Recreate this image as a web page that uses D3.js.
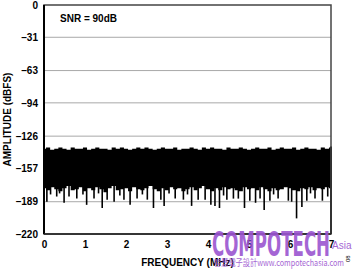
<!DOCTYPE html>
<html>
<head>
<meta charset="utf-8">
<script src="https://cdn.jsdelivr.net/npm/d3@7"></script>
<style>
body { margin: 0; background: #fff; }
text { font-family: "Liberation Sans", Arial, sans-serif; }
</style>
</head>
<body>
<svg width="353" height="270"></svg>
<script>
// tick values on the axes
var yTicks = [0, -31, -63, -94, -126, -157, -189, -220];
var xTicks = [0, 1, 2, 3, 4, 5, 6, 7];

// noise floor envelope, sampled every 0.1 MHz (dBFS)
var bandTop = [-138,-137,-139,-138,-137,-138,-139,-137,-138,-138,-137,-139,-138,-137,-138,-138,-139,-137,-138,-137,
  -138,-139,-138,-137,-138,-137,-138,-139,-138,-137,-138,-138,-137,-139,-138,-138,-137,-138,-139,-137,
  -138,-137,-138,-138,-139,-137,-138,-138,-137,-138,-139,-138,-137,-138,-138,-137,-139,-138,-137,-138,
  -138,-137,-139,-138,-137,-138,-138,-139,-137,-138,-137];
var bandBottom = [-176,-178,-175,-177,-179,-176,-174,-178,-177,-175,-179,-176,-178,-175,-177,-180,-176,-174,-178,-177,
  -176,-179,-175,-177,-178,-176,-174,-177,-179,-176,-178,-175,-177,-176,-179,-177,-175,-178,-176,-174,
  -177,-179,-176,-178,-175,-177,-176,-178,-179,-175,-177,-176,-178,-175,-177,-179,-176,-178,-177,-175,
  -176,-178,-179,-176,-177,-175,-178,-176,-177,-175,-176];

// downward noise spikes below the floor: [MHz, dBFS]
var spikes = [[0.07,-189],[0.16,-182],[0.31,-184],[0.49,-190],[0.61,-184],[0.80,-186],[1.04,-192],[1.22,-186],
  [1.42,-195],[1.54,-187],[1.71,-189],[1.95,-187],[2.10,-192],[2.27,-186],[2.52,-187],[2.67,-195],[2.85,-187],
  [2.93,-193],[3.20,-186],[3.40,-187],[3.60,-193],[3.76,-187],[3.93,-187],[4.07,-192],[4.17,-193],[4.28,-195],
  [4.46,-187],[4.62,-186],[4.74,-186],[4.89,-195],[5.02,-188],[5.16,-190],[5.27,-186],[5.37,-197],[5.51,-188],
  [5.71,-186],[5.96,-188],[6.04,-189],[6.16,-205],[6.29,-194],[6.41,-188],[6.61,-186],[6.79,-188],[6.92,-184],
  [0.38,-181],[0.95,-182],[1.33,-181],[1.85,-183],[2.40,-182],[3.05,-181],[3.50,-182],[4.38,-183],[5.60,-182],[6.50,-181]];

// single bins at the band edges: [MHz, top dBFS, bottom dBFS]
var edgeBins = [[0, -95, -176], [7, -136, -220]];

var svg = d3.select("svg");
var margin = {left: 44, top: 5, right: 22, bottom: 36};
var width = 353 - margin.left - margin.right;
var height = 270 - margin.top - margin.bottom;

var x = d3.scaleLinear().domain([0, 7]).range([0, width]);
var y = d3.scaleLinear().domain([0, -220]).range([0, height]);

var g = svg.append("g")
    .attr("transform", "translate(" + margin.left + "," + margin.top + ")");

// grid
g.append("g")
    .selectAll("line")
    .data(yTicks.slice(1, -1))
    .enter().append("line")
    .attr("x1", 0).attr("x2", width)
    .attr("y1", function (d) { return y(d); })
    .attr("y2", function (d) { return y(d); })
    .style("stroke", "#a8a8a8")
    .style("stroke-width", 1);

// noise band
var step = 7 / (bandTop.length - 1);
var area = d3.area()
    .x(function (d, i) { return x(i * step); })
    .y0(function (d, i) { return y(bandBottom[i]); })
    .y1(function (d) { return y(d); })
    .curve(d3.curveStep);

g.append("path")
    .datum(bandTop)
    .attr("d", area)
    .attr("fill", "#000");

g.append("g")
    .selectAll("line")
    .data(spikes)
    .enter().append("line")
    .attr("x1", function (d) { return x(d[0]); })
    .attr("x2", function (d) { return x(d[0]); })
    .attr("y1", y(-170))
    .attr("y2", function (d) { return y(d[1]); })
    .style("stroke", "#000")
    .style("stroke-width", 1.6);

g.append("g")
    .selectAll("line")
    .data(edgeBins)
    .enter().append("line")
    .attr("x1", function (d) { return x(d[0]); })
    .attr("x2", function (d) { return x(d[0]); })
    .attr("y1", function (d) { return y(d[1]); })
    .attr("y2", function (d) { return y(d[2]); })
    .style("stroke", "#000")
    .style("stroke-width", 2);

// frame
g.append("rect")
    .attr("width", width).attr("height", height)
    .attr("fill", "none")
    .style("stroke", "#444")
    .style("stroke-width", 1.5);
g.append("line")
    .attr("x1", 0).attr("x2", 0).attr("y1", 0).attr("y2", height)
    .style("stroke", "#000").style("stroke-width", 2);
g.append("line")
    .attr("x1", 0).attr("x2", width).attr("y1", height).attr("y2", height)
    .style("stroke", "#222").style("stroke-width", 1.6);

// axes labels
var yAxis = d3.axisLeft(y).tickValues(yTicks).tickSize(0).tickPadding(6)
    .tickFormat(function (d) { return d === 0 ? "0" : "\u2013" + Math.abs(d); });
g.append("g").call(yAxis)
    .call(function (s) { s.select(".domain").remove(); })
    .selectAll("text")
    .style("font-size", "10px").style("font-weight", "bold")
    .style("font-family", "Liberation Sans, Arial, sans-serif")
    .attr("fill", "#000");

var xAxis = d3.axisBottom(x).tickValues(xTicks).tickSize(0).tickPadding(7)
    .tickFormat(d3.format("d"));
g.append("g").attr("transform", "translate(0," + height + ")").call(xAxis)
    .call(function (s) { s.select(".domain").remove(); })
    .selectAll("text")
    .style("font-size", "10px").style("font-weight", "bold")
    .style("font-family", "Liberation Sans, Arial, sans-serif")
    .attr("fill", "#000");

svg.append("text")
    .attr("x", margin.left + width / 2).attr("y", 266)
    .attr("text-anchor", "middle")
    .style("font-size", "10px").style("font-weight", "bold")
    .text("FREQUENCY (MHz)");

svg.append("text")
    .attr("transform", "translate(11," + (margin.top + height / 2) + ") rotate(-90)")
    .attr("text-anchor", "middle")
    .style("font-size", "10px").style("font-weight", "bold")
    .text("AMPLITUDE (dBFS)");

svg.append("text")
    .attr("x", 60).attr("y", 22)
    .style("font-size", "10px").style("font-weight", "bold")
    .text("SNR = 90dB");

svg.append("text")
    .attr("transform", "translate(350,262) rotate(-90)")
    .style("font-size", "6px")
    .text("08");

// watermark
var wm = svg.append("g").attr("fill", "#9b55d0").style("opacity", 0.9);
wm.append("text")
    .attr("x", 212).attr("y", 256)
    .attr("textLength", 118).attr("lengthAdjust", "spacingAndGlyphs")
    .style("font-family", "Liberation Sans Narrow, DejaVu Sans Condensed, sans-serif")
    .style("font-weight", "bold")
    .style("font-size", "34px")
    .text("COMPOTECH");
wm.append("text")
    .attr("x", 332).attr("y", 249)
    .style("font-size", "10px")
    .text("Asia");
wm.append("text")
    .attr("x", 214).attr("y", 266)
    .attr("textLength", 130).attr("lengthAdjust", "spacingAndGlyphs")
    .style("font-family", "Noto Sans CJK TC, sans-serif")
    .style("font-size", "9px")
    .text("智慧電子設計www.compotechasia.com");
</script>
</body>
</html>
